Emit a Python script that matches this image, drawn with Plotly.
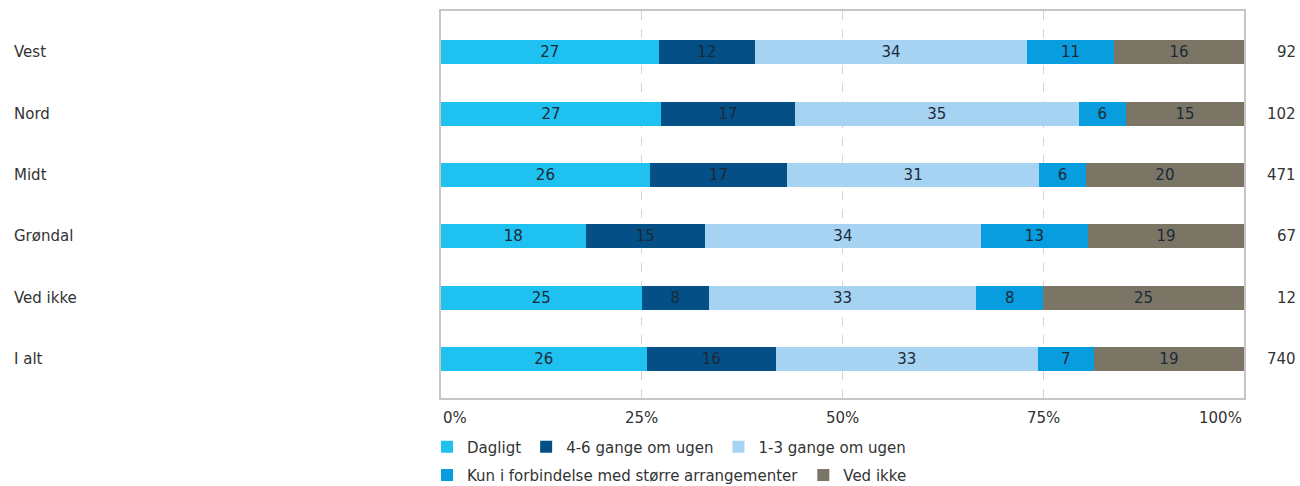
import plotly.graph_objects as go

# ---- data ----
categories = ["Vest", "Nord", "Midt", "Grøndal", "Ved ikke", "I alt"]
n_values = [92, 102, 471, 67, 12, 740]

series_names = [
    "Dagligt",
    "4-6 gange om ugen",
    "1-3 gange om ugen",
    "Kun i forbindelse med større arrangementer",
    "Ved ikke",
]
dagligt = [27.1, 27.4, 26.0, 18.0, 25.0, 25.6]
gange_4_6 = [12.0, 16.7, 17.1, 14.9, 8.33, 16.1]
gange_1_3 = [33.9, 35.3, 31.4, 34.3, 33.33, 32.6]
kun_arr = [10.8, 5.9, 5.8, 13.4, 8.33, 7.0]
ved_ikke = [16.2, 14.7, 19.7, 19.4, 25.0, 18.7]

tick_values = [0, 25, 50, 75, 100]
tick_labels = ["0%", "25%", "50%", "75%", "100%"]

# ---- style ----
colors = ["#1fc1f1", "#034f86", "#a7d3f3", "#089ddf", "#7b7565"]
FONT = "DejaVu Sans"
TXT = "#333333"

series_values = [dagligt, gange_4_6, gange_1_3, kun_arr, ved_ikke]

fig = go.Figure()
for i, (name, vals) in enumerate(zip(series_names, series_values)):
    fig.add_trace(go.Bar(
        x=vals, y=categories, orientation="h", name=name,
        marker=dict(color=colors[i], line=dict(width=0)),
        width=0.39,
        text=vals, texttemplate="%{x:.0f}", textposition="inside",
        insidetextanchor="middle", textangle=0, constraintext="none",
        textfont=dict(family=FONT, size=15, color="#1c2a38"),
        legend="legend" if i < 3 else "legend2",
        hoverinfo="skip",
    ))

annotations = []
for cat, n in zip(categories, n_values):
    annotations.append(dict(xref="paper", yref="y", x=(12 - 441) / 803, y=cat,
                            text=cat, showarrow=False, xanchor="left",
                            font=dict(family=FONT, size=15, color=TXT)))
    annotations.append(dict(xref="paper", yref="y", x=(1298 - 441) / 803, y=cat,
                            text=str(n), showarrow=False, xanchor="right",
                            font=dict(family=FONT, size=15, color=TXT)))
for v, lab in zip(tick_values, tick_labels):
    anchor = "left" if v == tick_values[0] else ("right" if v == tick_values[-1] else "center")
    annotations.append(dict(xref="x", yref="paper", x=v, y=0, yanchor="top",
                            yshift=-9, text=lab, showarrow=False, xanchor=anchor,
                            font=dict(family=FONT, size=15, color=TXT)))

fig.update_layout(
    barmode="stack",
    width=1300, height=486,
    margin=dict(l=441, r=56, t=11, b=88, autoexpand=False),
    plot_bgcolor="white", paper_bgcolor="white",
    font=dict(family=FONT, size=15, color=TXT),
    xaxis=dict(range=[0, 100], tickvals=[25, 50, 75], showticklabels=False,
               showgrid=True, gridcolor="#d4d4d4", griddash="dash", gridwidth=1,
               showline=True, mirror=True, linecolor="#c6c6c6", linewidth=2,
               zeroline=False, ticks=""),
    yaxis=dict(categoryorder="array", categoryarray=categories,
               range=[5.63, -0.67], showticklabels=False, showgrid=False,
               showline=True, mirror=True, linecolor="#c6c6c6", linewidth=2,
               ticks=""),
    showlegend=True,
    legend=dict(orientation="h", x=-0.0174, xanchor="left", y=-0.084, yanchor="top",
                font=dict(family=FONT, size=15, color=TXT), itemwidth=30,
                bgcolor="rgba(0,0,0,0)", traceorder="normal"),
    legend2=dict(orientation="h", x=-0.0174, xanchor="left", y=-0.157, yanchor="top",
                 font=dict(family=FONT, size=15, color=TXT), itemwidth=30,
                 bgcolor="rgba(0,0,0,0)", traceorder="normal"),
    annotations=annotations,
)

fig.write_html("out.html", config={"displayModeBar": False},
               post_script="document.body.style.margin='0';")
